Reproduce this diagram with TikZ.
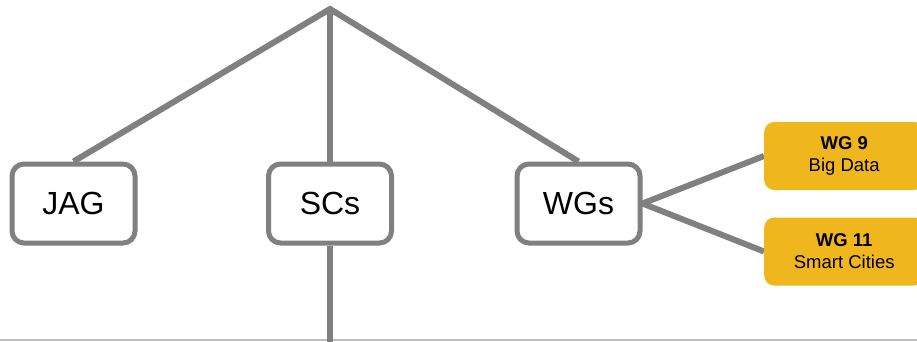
\documentclass[tikz,border=0pt]{standalone}
\usepackage{fontspec}
\setmainfont{Liberation Sans}
\usetikzlibrary{backgrounds}
\definecolor{linegray}{RGB}{128,128,128}
\definecolor{wgyellow}{RGB}{240,182,30}
\definecolor{edgegray}{RGB}{190,190,190}
\begin{document}
\begin{tikzpicture}[x=1pt,y=-1pt,
  bigbox/.style={draw=linegray, line width=5pt, fill=white, rounded corners=12pt,
    minimum width=123pt, minimum height=79pt, inner sep=0pt,
    font=\fontsize{32}{38}\selectfont},
  wgbox/.style={fill=wgyellow, rounded corners=10pt, minimum width=160pt,
    minimum height=68pt, inner sep=0pt, align=center,
    font=\fontsize{18.5}{22}\selectfont},
  conn/.style={draw=linegray, line width=6pt}]
\useasboundingbox (0,0) rectangle (917,341);
\coordinate (apex) at (330,9);
\coordinate (bottom) at (330,345);
\coordinate (bl) at (0,340);
\coordinate (br) at (917,340);
\node[bigbox] (jag) at (73.5,203.5) {JAG};
\node[bigbox] (scs) at (330,203.5) {SCs};
\node[bigbox] (wgs) at (578.5,203.5) {WGs};
\node[wgbox, anchor=west] (wg9) at (764,156) {\textbf{WG 9}\\Big Data};
\node[wgbox, anchor=west] (wg11) at (764,251.5) {\textbf{WG 11}\\Smart Cities};
\begin{scope}[on background layer]
\draw[edgegray, line width=1.2pt] (bl) -- (br);
\draw[conn, line join=miter] (jag.north) -- (apex) -- (wgs.north);
\draw[conn] (apex) -- (scs.north);
\draw[conn] (scs.south) -- (bottom);
\draw[conn] (wgs.east) -- (wg9.west);
\draw[conn] (wgs.east) -- (wg11.west);
\end{scope}
\end{tikzpicture}
\end{document}
